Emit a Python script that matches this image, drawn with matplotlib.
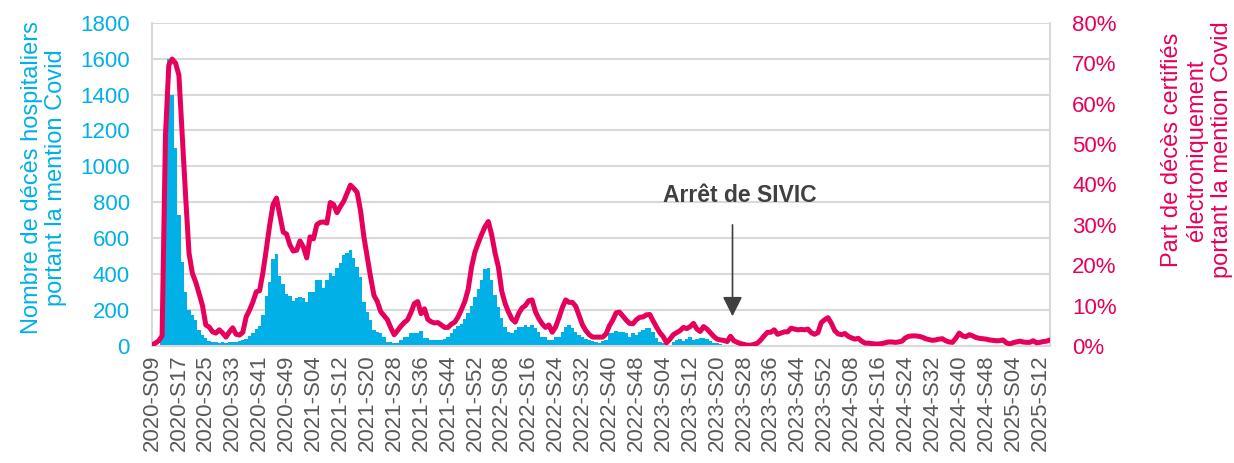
import matplotlib
matplotlib.use("Agg")
import matplotlib.pyplot as plt
import numpy as np
from matplotlib.ticker import FuncFormatter

plt.rcParams['font.family'] = ['Liberation Sans', 'DejaVu Sans']

# ---- categories: ISO weeks from 2020-S09 to 2025-S15 ----
years = [2020, 2021, 2022, 2023, 2024, 2025]
first_weeks = [9, 1, 1, 1, 1, 1]
last_weeks = [53, 52, 52, 52, 52, 15]
weeks = []
for yr, w0, w1 in zip(years, first_weeks, last_weeks):
    for w in range(w0, w1 + 1):
        weeks.append(f"{yr}-S{w:02d}")

# ---- share of electronically certified deaths mentioning Covid (%) ----
pct_covid = [
    0.3, 0.7, 1.3, 2.5, 52, 69.5, 71, 70, 67, 52,
    37, 23, 18, 15.8, 13, 10, 5.2, 4.7, 3.5, 3.2,
    4, 3.2, 2.2, 3.5, 4.5, 2.9, 2.7, 3.4, 7.2, 8.9,
    10.9, 13.4, 13.7, 18.3, 24, 30, 35, 36.6, 32.4, 28.2,
    27.7, 25, 23.5, 23.7, 26, 24.5, 21.8, 27, 26.5, 30,
    30.6, 30.7, 30.4, 35.5, 35, 33, 34.5, 35.8, 37.8, 39.8,
    39, 38, 33.5, 27, 22, 17, 12.5, 11, 8.5, 7.5,
    6.5, 4.5, 2.8, 3.8, 4.9, 5.8, 6.5, 8.3, 10.5, 11,
    8, 9.2, 6.6, 6, 5.7, 5.8, 5.2, 4.6, 4.6, 5.4,
    5.9, 7.2, 9, 11, 14, 19.5, 23.2, 25.5, 27.6, 29.5,
    30.8, 27.5, 23, 19.5, 13.5, 10.5, 8.4, 6.7, 5.9, 8,
    9.4, 10, 11.2, 11.4, 8.5, 6.8, 5.5, 4.6, 5.2, 3.4,
    4.7, 7, 9.5, 11.4, 10.8, 10.8, 9.8, 7.5, 5.2, 3.8,
    2.8, 2.2, 2.2, 2.2, 2.2, 3, 5, 6.4, 8.2, 8.4,
    7.4, 6.4, 5.6, 5.5, 6.5, 7.1, 7.2, 7.7, 7.8, 6.2,
    4.7, 3.3, 2.3, 0.8, 1.7, 2.8, 3.3, 3.8, 4.6, 4.3,
    4.8, 5.6, 4.2, 3.6, 4.8, 4.2, 3.3, 2.4, 1.7, 1.5,
    1.4, 1.1, 2.4, 1.3, 0.9, 0.6, 0.4, 0.2, 0.2, 0.4,
    0.7, 1.5, 2.5, 3.4, 3.4, 4, 2.9, 3.2, 3.5, 3.5,
    4.4, 4.2, 4, 4.1, 4, 4.2, 3.3, 2.9, 3.3, 5.8,
    6.5, 7, 5.6, 3.8, 3, 2.8, 3.1, 2.4, 2, 1.7,
    1.9, 1.2, 0.7, 0.7, 0.6, 0.5, 0.5, 0.6, 0.8, 1,
    1, 0.9, 1, 1.2, 2, 2.4, 2.5, 2.5, 2.4, 2.2,
    1.8, 1.6, 1.4, 1.5, 1.7, 1.8, 1.3, 1, 0.9, 1.9,
    3.2, 2.5, 2.3, 2.8, 2.5, 2.1, 1.9, 1.8, 1.7, 1.5,
    1.4, 1.3, 1.3, 1.5, 0.8, 0.5, 0.8, 1, 1.2, 1,
    0.9, 0.9, 1.3, 0.8, 0.9, 1.1, 1.2, 1.5,
]

# ---- hospital deaths mentioning Covid (SIVIC, stops 2023) ----
hosp_deaths = [
    0, 0, 5, 120, 850, 1600, 1400, 1100, 730, 470,
    300, 200, 175, 145, 90, 60, 45, 30, 25, 20,
    18, 20, 18, 20, 22, 25, 28, 32, 40, 55,
    70, 95, 110, 170, 280, 355, 485, 510, 390, 345,
    290, 280, 250, 265, 275, 270, 245, 300, 300, 365,
    370, 325, 365, 405, 390, 435, 460, 505, 520, 535,
    490, 440, 385, 245, 190, 145, 90, 80, 72, 50,
    25, 20, 18, 18, 33, 50, 50, 72, 75, 75,
    83, 45, 45, 35, 35, 35, 35, 40, 50, 75,
    95, 110, 125, 150, 185, 225, 275, 320, 365, 430,
    435, 365, 285, 215, 155, 105, 78, 70, 88, 105,
    108, 117, 105, 117, 100, 78, 52, 48, 33, 33,
    50, 50, 78, 106, 117, 100, 78, 61, 50, 40,
    33, 30, 25, 17, 30, 35, 70, 75, 84, 80,
    80, 72, 50, 72, 60, 80, 89, 100, 100, 80,
    45, 22, 17, 0, 2, 22, 33, 40, 30, 40,
    50, 33, 40, 45, 45, 40, 30, 17, 14, 12,
    7, 5, 4,
]

annotation_text = "Arrêt de SIVIC"
annotation_week = "2023-S25"

left_label = "Nombre de décès hospitaliers\nportant la mention Covid"
right_label = "Part de décès certifiés\nélectroniquement\nportant la mention Covid"

BLUE = "#00B0E6"
RED = "#E6005C"
GREY = "#595959"
GRID = "#D9D9D9"

fig = plt.figure(figsize=(12.34, 4.63), dpi=100)
ax = fig.add_axes([152 / 1234, 1 - 346 / 463, (1050 - 152) / 1234, (346 - 22.7) / 463])

x = np.arange(len(weeks))
ax.bar(x[:len(hosp_deaths)], hosp_deaths, width=1.0, color=BLUE, linewidth=0, zorder=2)
ax.set_ylim(0, 1800)
ax.set_yticks(np.arange(0, 1801, 200))
ax.set_xlim(0, len(weeks) - 1)
ax.set_xticks(x[::8])
ax.set_xticklabels(weeks[::8], rotation=90, fontsize=16, color=GREY)
ax.grid(axis='y', color=GRID, lw=1.5, zorder=0)
ax.set_axisbelow(True)
ax.tick_params(axis='y', length=0, labelsize=16, labelcolor=BLUE, pad=16)
ax.tick_params(axis='x', length=0, pad=6)
for s in ['left', 'right', 'bottom']:
    ax.spines[s].set_color(GRID)
    ax.spines[s].set_linewidth(1.5)
ax.spines['top'].set_visible(False)

ax2 = ax.twinx()
ax2.plot(x, pct_covid, color=RED, lw=3.6, solid_joinstyle='round', solid_capstyle='round', zorder=3)
ax2.set_ylim(0, 80)
ax2.set_yticks(np.arange(0, 81, 10))
ax2.yaxis.set_major_formatter(FuncFormatter(lambda v, p: f"{int(v)}%"))
ax2.tick_params(axis='y', length=0, labelsize=16, labelcolor=RED, pad=16)
for s in ax2.spines.values():
    s.set_visible(False)

# annotation
xa = weeks.index(annotation_week) - 0.4
ax.annotate('', xy=(xa, 150), xytext=(xa, 690),
            arrowprops=dict(arrowstyle='-|>', color='#404040', lw=1.2, mutation_scale=30))
ax.text(xa + 2.2, 840, annotation_text, ha='center', va='center', fontsize=16.5,
        fontweight='bold', color='#404040')

fig.text(44 / 1234, 1 - 178 / 463, left_label, rotation=90, ha='center', va='center',
         multialignment='center', fontsize=17, color=BLUE, linespacing=1.12)
fig.text(1197 / 1234, 1 - 150 / 463, right_label, rotation=90, ha='center', va='center',
         multialignment='center', fontsize=17, color=RED, linespacing=1.18)

fig.savefig("out.png", dpi=100)
